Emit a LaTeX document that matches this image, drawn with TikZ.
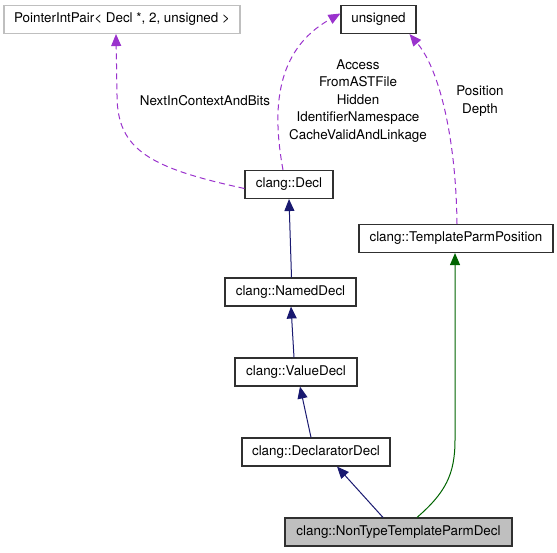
\documentclass[tikz,border=0pt]{standalone}
\usepackage{fontspec}
\setmainfont{TeX Gyre Heros}
\usetikzlibrary{arrows.meta}
\definecolor{edgeblue}{HTML}{191970}
\definecolor{edgegreen}{HTML}{006400}
\definecolor{edgepurple}{HTML}{9A32CD}
\definecolor{boxgrey}{HTML}{303030}
\definecolor{lightgrey}{HTML}{BFBFBF}
\begin{document}
\begin{tikzpicture}[x=1pt,y=-1pt,
  font=\fontsize{13.4}{17.5}\selectfont,
  cls/.style={draw=boxgrey, line width=1.1pt, fill=white, minimum height=28pt, inner sep=0pt},
  inh/.style={draw=edgeblue, line width=1pt, -{Triangle[length=12pt,width=10pt]}},
  tmpl/.style={draw=edgegreen, line width=1pt, -{Triangle[length=12pt,width=10pt]}},
  usage/.style={draw=edgepurple, line width=1pt, dashed, dash pattern=on 6pt off 4pt, -{Triangle[length=12pt,width=10pt]}},
  lbl/.style={align=center, inner sep=0pt}]
\useasboundingbox (0,0) rectangle (557,552);

\node[cls, draw=lightgrey, minimum width=236pt](pip) at (122,19.5) {PointerIntPair< Decl *, 2, unsigned >};
\node[cls, minimum width=75pt](uns) at (378.5,19.5) {unsigned};
\node[cls, minimum width=88pt](decl) at (289,184.5) {clang::Decl};
\node[cls, minimum width=194pt](tpp) at (456,238.5) {clang::TemplateParmPosition};
\node[cls, minimum width=131pt](named) at (290.5,292) {clang::NamedDecl};
\node[cls, minimum width=122pt](value) at (296,372) {clang::ValueDecl};
\node[cls, minimum width=148pt](dd) at (316,452) {clang::DeclaratorDecl};
\node[cls, fill=lightgrey, minimum width=227pt](nttp) at (398.5,532) {clang::NonTypeTemplateParmDecl};

\node[lbl](lnext) at (205,101) {NextInContextAndBits};
\node[lbl](lbits) at (358,101) {Access\\FromASTFile\\Hidden\\IdentifierNamespace\\CacheValidAndLinkage};
\node[lbl](lpos) at (480,101) {Position\\Depth};

\draw[inh] ([xshift=1]named.north) to (decl.south);
\draw[inh] ([xshift=-2]value.north) to ([xshift=0.5]named.south);
\draw[inh] ([xshift=-5]dd.north) to ([xshift=4]value.south);
\draw[inh] ([xshift=-15.5]nttp.north) to ([xshift=21]dd.south);

\draw[tmpl] ([xshift=18.5]nttp.north) .. controls (445,493) and (455,475) .. (455,440) -- ([xshift=-1]tpp.south);

\draw[usage] ([yshift=-4]decl.west) .. controls (150,168) and (117,150) .. (117,95) -- ([xshift=-6]pip.south);
\draw[usage] ([xshift=-6]decl.north) .. controls (272,110) and (275,50) .. ([yshift=6]uns.west);
\draw[usage] ([xshift=1]tpp.north) .. controls (456,140) and (440,70) .. ([xshift=31]uns.south);

\end{tikzpicture}
\end{document}
